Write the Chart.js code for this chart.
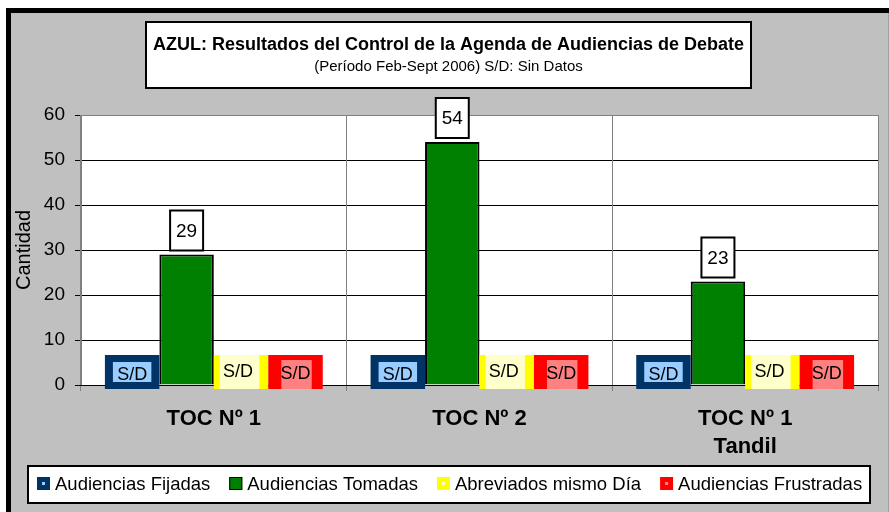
<!DOCTYPE html>
<html>
<head>
<meta charset="utf-8">
<script src="https://cdn.jsdelivr.net/npm/chart.js@4.4.1/dist/chart.umd.min.js"></script>
<style>
  html, body { margin: 0; padding: 0; background: #fff; }
  canvas { display: block; }
</style>
</head>
<body>
<canvas id="chart" width="889" height="512"></canvas>
<script>
// Data (null = S/D, sin datos)
const categories = [['TOC Nº 1'], ['TOC Nº 2'], ['TOC Nº 1', 'Tandil']];
const seriesNames = ['Audiencias Fijadas', 'Audiencias Tomadas', 'Abreviados mismo Día', 'Audiencias Frustradas'];
const fijadas = [null, null, null];
const tomadas = [29, 54, 23];
const abreviados = [null, null, null];
const frustradas = [null, null, null];
const yTicks = [0, 10, 20, 30, 40, 50, 60];

const titleText = 'AZUL: Resultados del Control de la Agenda de Audiencias de Debate';
const subtitleText = '(Período Feb-Sept 2006) S/D: Sin Datos';

const FONT = '"Liberation Sans", Arial, sans-serif';

// fill, inner (lighter) colour
const seriesColors = [
    ['#003366', '#99ccff'],
    ['#008000', '#008000'],
    ['#ffff00', '#ffffcc'],
    ['#ff0000', '#ff8080']
];

// background, outer frame and white plot area
const framePlugin = {
    id: 'frame',
    beforeDraw(chart) {
        const ctx = chart.ctx;
        const W = chart.width, H = chart.height;
        const a = chart.chartArea;
        ctx.save();
        ctx.fillStyle = '#ffffff';
        ctx.fillRect(0, 0, W, H);
        ctx.fillStyle = '#c0c0c0';
        ctx.fillRect(6, 8, W, H);
        ctx.fillStyle = '#000000';
        ctx.fillRect(6, 8, W, 5);
        ctx.fillRect(6, 8, 5, H);
        ctx.fillStyle = '#a0a0a0';
        ctx.fillRect(W - 1, 13, 1, H);
        ctx.fillStyle = '#ffffff';
        ctx.fillRect(a.left, a.top, a.right - a.left, a.bottom - a.top);
        ctx.restore();
    }
};

function drawSD(ctx, bar, ds, base) {
    const w = bar.width;
    const x0 = bar.x - w / 2;
    const [outer, inner] = seriesColors[ds];
    ctx.fillStyle = outer;
    ctx.fillRect(x0, base - 30, w, 34);
    let ty = base - 10;
    ctx.fillStyle = inner;
    if (ds === 0) {
        ctx.fillRect(x0 + 8, base - 23, w - 16, 20);
        ty = base - 10;
    } else if (ds === 2) {
        ctx.fillRect(x0 + 6, base - 30, w - 15, 34);
        ty = base - 13;
    } else {
        ctx.fillRect(x0 + 13, base - 25, w - 24, 29);
        ty = base - 11;
    }
    ctx.fillStyle = '#000000';
    ctx.font = '18px ' + FONT;
    ctx.textAlign = 'center';
    ctx.textBaseline = 'middle';
    const tx = ds === 2 ? bar.x - 3 : bar.x;
    ctx.fillText('S/D', tx, ty);
}

// S/D boxes and value labels
const labelsPlugin = {
    id: 'barLabels',
    afterDatasetsDraw(chart) {
        const ctx = chart.ctx;
        const base = chart.scales.y.getPixelForValue(0);
        ctx.save();
        chart.data.datasets.forEach((dataset, ds) => {
            const meta = chart.getDatasetMeta(ds);
            meta.data.forEach((bar, i) => {
                const v = dataset.data[i];
                if (v === null) {
                    drawSD(ctx, bar, ds, base);
                } else {
                    const bw = 33, bh = 40;
                    const bx = bar.x - bw / 2;
                    const by = bar.y - 4 - bh;
                    ctx.fillStyle = '#ffffff';
                    ctx.fillRect(bx, by, bw, bh);
                    ctx.strokeStyle = '#000000';
                    ctx.lineWidth = 2;
                    ctx.strokeRect(bx, by, bw, bh);
                    ctx.fillStyle = '#000000';
                    ctx.font = '19px ' + FONT;
                    ctx.textAlign = 'center';
                    ctx.textBaseline = 'middle';
                    ctx.fillText(String(v), bar.x, by + bh / 2 + 1);
                }
            });
        });
        ctx.restore();
    }
};

// title box and legend box
const boxesPlugin = {
    id: 'boxes',
    afterDraw(chart) {
        const ctx = chart.ctx;
        ctx.save();
        // title
        ctx.fillStyle = '#ffffff';
        ctx.fillRect(146, 22, 605, 66);
        ctx.strokeStyle = '#000000';
        ctx.lineWidth = 2;
        ctx.strokeRect(146, 22, 605, 66);
        ctx.fillStyle = '#000000';
        ctx.textAlign = 'center';
        ctx.textBaseline = 'middle';
        ctx.font = 'bold 18px ' + FONT;
        ctx.fillText(titleText, 448.5, 45);
        ctx.font = '15px ' + FONT;
        ctx.fillText(subtitleText, 448.5, 67);

        // legend
        ctx.fillStyle = '#ffffff';
        ctx.fillRect(28, 466, 842, 37);
        ctx.strokeRect(28, 466, 842, 37);
        ctx.font = '18.5px ' + FONT;
        ctx.textAlign = 'left';
        let x = 37;
        const my = 477, ms = 13;
        chart.data.datasets.forEach((dataset, ds) => {
            const [outer, inner] = seriesColors[ds];
            ctx.fillStyle = outer;
            ctx.fillRect(x, my, ms, ms);
            if (ds === 1) {
                ctx.lineWidth = 1;
                ctx.strokeRect(x + 0.5, my + 0.5, ms - 1, ms - 1);
            } else {
                ctx.fillStyle = inner;
                ctx.fillRect(x + 5, my + 5, 3, 3);
            }
            ctx.fillStyle = '#000000';
            ctx.fillText(dataset.label, x + ms + 5, 485);
            x += ms + 5 + ctx.measureText(dataset.label).width + 19;
        });
        ctx.restore();
    }
};

const ctx = document.getElementById('chart').getContext('2d');
new Chart(ctx, {
    type: 'bar',
    data: {
        labels: categories,
        datasets: [
            { label: seriesNames[0], data: fijadas, backgroundColor: seriesColors[0][0] },
            { label: seriesNames[1], data: tomadas, backgroundColor: seriesColors[1][0], borderColor: '#000000', borderWidth: 2 },
            { label: seriesNames[2], data: abreviados, backgroundColor: seriesColors[2][0] },
            { label: seriesNames[3], data: frustradas, backgroundColor: seriesColors[3][0] }
        ]
    },
    options: {
        responsive: false,
        animation: false,
        devicePixelRatio: 1,
        categoryPercentage: 0.82,
        barPercentage: 1.0,
        layout: { padding: { left: 12, top: 115, right: 11, bottom: 0 } },
        plugins: {
            legend: { display: false },
            title: { display: false },
            tooltip: { enabled: false }
        },
        scales: {
            y: {
                min: 0,
                max: 60,
                afterBuildTicks: (scale) => { scale.ticks = yTicks.map(v => ({ value: v })); },
                afterFit: (scale) => { scale.width = 69; },
                ticks: {
                    color: '#000000',
                    font: { family: FONT, size: 19 },
                    padding: 10
                },
                grid: {
                    color: (c) => c.tick && c.tick.value === 60 ? '#808080' : '#000000',
                    tickColor: '#000000',
                    tickLength: 6
                },
                border: { color: '#808080', width: 1 },
                title: {
                    display: true,
                    text: 'Cantidad',
                    color: '#000000',
                    font: { family: FONT, size: 20 },
                    padding: 0
                }
            },
            x: {
                afterFit: (scale) => { scale.height = 127; },
                ticks: {
                    color: '#000000',
                    font: { family: FONT, size: 22, weight: 'bold', lineHeight: 1.27 },
                    padding: 14
                },
                grid: {
                    offset: true,
                    color: '#808080',
                    tickColor: '#808080',
                    tickLength: 6
                },
                border: { color: '#000000', width: 1 }
            }
        }
    },
    plugins: [framePlugin, labelsPlugin, boxesPlugin]
});
</script>
</body>
</html>
